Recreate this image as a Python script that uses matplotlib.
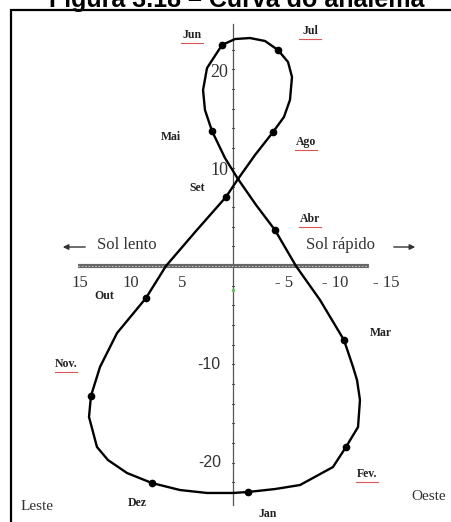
import matplotlib.pyplot as plt
from matplotlib.patches import Rectangle
import numpy as np

# analema: equacao do tempo (min, positivo = sol lento) x declinacao (graus)
eq_tempo = [-1.47, -4.12, -6.58, -9.81, -11.09, -12.27, -12.46, -12.17, -11.78, -10.89,
            -8.54, -6.18, -4.12, -2.26, -0.49, 0.79, 2.06, 2.75, 2.94, 2.55,
            1.08, -0.20, -1.67, -3.14, -4.42, -5.40, -5.79, -5.59, -5.00, -3.93,
            -2.16, -0.49, 0.69, 3.63, 6.58, 8.54, 11.38, 13.05, 13.94, 14.13,
            13.35, 12.27, 10.40, 7.95, 5.20, 2.55, 0.00, -1.47]
declinacao = [-22.99, -22.69, -22.28, -20.45, -18.41, -16.38, -13.63, -11.60, -10.27, -7.53,
              -3.46, 0.00, 3.66, 6.21, 8.85, 10.99, 13.73, 15.87, 17.90, 20.14,
              22.48, 23.09, 23.19, 22.89, 21.97, 20.75, 19.23, 16.89, 15.16, 13.63,
              11.29, 8.85, 7.02, 3.56, 0.00, -3.26, -6.82, -10.27, -13.22, -15.36,
              -18.41, -19.74, -21.06, -22.08, -22.79, -23.09, -23.09, -22.99]

meses = ['Jan', 'Fev', 'Mar', 'Abr', 'Mai', 'Jun', 'Jul', 'Ago', 'Set', 'Out', 'Nov', 'Dez']
idx_meses = [0, 4, 9, 12, 16, 20, 24, 29, 32, 35, 38, 43]

# onde fica o nome de cada mes (pixels) e se leva o sublinhado vermelho
pos_meses = {'Jan': (268, 514, False), 'Fev': (367, 474, True), 'Mar': (381, 333, False),
             'Abr': (310, 219, True), 'Mai': (171, 137, False), 'Jun': (192, 35, True),
             'Jul': (310, 31, True), 'Ago': (306, 142, True), 'Set': (197, 188, False),
             'Out': (104, 296, False), 'Nov': (66, 364, True), 'Dez': (137, 503, False)}
rotulo_mes = {'Fev': 'Fev.', 'Nov': 'Nov.'}

xticks = [15, 10, 5, -5, -10, -15]
xtick_labels = ['15', '10', '5', '- 5', '- 10', '- 15']
yticks = [20, 10, -10, -20]

W, H = 452, 522
fig = plt.figure(figsize=(W / 100, H / 100), dpi=100)
ax = fig.add_axes([0, 0, 1, 1])
ax.set_axis_off()
# 10.19 px por minuto, 9.83 px por grau, origem em (233, 266)
ax.set_xlim(233 / 10.19, (233 - W) / 10.19)
ax.set_ylim((266 - H) / 9.83, 266 / 9.83)


def fx(x):
    return x / W


def fy(y):
    return 1 - y / H


# eixos
ax.plot([0, 0], [(266 - 24) / 9.83, (266 - 505) / 9.83], color='#555555', lw=0.9)
for t in range(-22, 24, 2):
    ax.plot([0.12, -0.12], [t, t], color='#555555', lw=0.8)
ax.plot([15.2, -13.3], [0, 0], color='#666666', lw=3.0, solid_capstyle='butt')
ax.plot([15.2, -13.3], [0, 0], color='#bbbbbb', lw=0.8, ls=(0, (1.5, 1.5)))
ax.plot([0], [-2.4], marker='o', ms=2.5, color='#66bb66', mec='none')

serif = 'Liberation Serif'
for v, lab in zip(xticks, xtick_labels):
    ax.text(v, -1.7, lab, family=serif, fontsize=12, ha='center', va='center', color='#333333')
for v in yticks:
    if v > 0:
        ax.text(0.45, v - 0.3, str(v), family=serif, fontsize=13, ha='right', va='center',
                color='#333333')
    else:
        ax.text(1.2, v, str(v), family='Liberation Sans', fontsize=11.5, ha='right', va='center',
                color='#333333')

# curva do analema
ax.plot(eq_tempo, declinacao, color='black', lw=1.7, solid_joinstyle='round')
ax.plot([eq_tempo[i] for i in idx_meses], [declinacao[i] for i in idx_meses],
        'o', color='black', ms=4.5)

for m in meses:
    px, py, sub = pos_meses[m]
    fig.text(fx(px), fy(py), rotulo_mes.get(m, m), family=serif, fontweight='bold',
             fontsize=8.5, ha='center', va='center', color='#222222')
    if sub:
        fig.add_artist(plt.Line2D([fx(px - 11), fx(px + 11)], [fy(py + 8), fy(py + 8)],
                                  color='#dd5555', lw=0.8))

# setas e textos laterais
ax.annotate('', xy=(fx(60), fy(247)), xytext=(fx(88), fy(247)), xycoords='figure fraction',
            arrowprops=dict(arrowstyle='-|>', color='#333333', lw=1, mutation_scale=8))
ax.annotate('', xy=(fx(418), fy(247)), xytext=(fx(391), fy(247)), xycoords='figure fraction',
            arrowprops=dict(arrowstyle='-|>', color='#333333', lw=1, mutation_scale=8))
fig.text(fx(127), fy(245), 'Sol lento', family=serif, fontsize=12, ha='center', va='center',
         color='#333333')
fig.text(fx(341), fy(245), 'Sol rápido', family=serif, fontsize=12, ha='center', va='center',
         color='#333333')
fig.text(fx(37), fy(507), 'Leste', family=serif, fontsize=11, ha='center', va='center',
         color='#333333')
fig.text(fx(429), fy(497), 'Oeste', family=serif, fontsize=11, ha='center', va='center',
         color='#333333')

# moldura e titulo
fig.add_artist(Rectangle((fx(11), -0.5), 2, fy(10) + 0.5, fill=False, ec='black', lw=1.6,
                         transform=fig.transFigure))
fig.text(fx(237), fy(7), 'Figura 3.18 – Curva do analema', family='Liberation Sans',
         fontweight='bold', fontsize=18, ha='center', va='baseline')

fig.savefig('out.png', dpi=100)
